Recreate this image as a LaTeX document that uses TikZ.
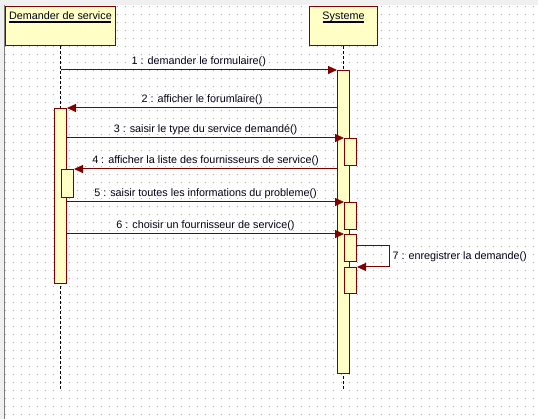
\documentclass[tikz,border=0pt]{standalone}
\usepackage{fontspec}
\setmainfont{Liberation Sans}
\usetikzlibrary{arrows.meta}
\definecolor{umlred}{RGB}{128,0,0}
\definecolor{umlfill}{RGB}{255,255,198}
\definecolor{griddot}{RGB}{170,170,170}
\definecolor{panel}{RGB}{240,240,240}
\definecolor{umltext}{RGB}{0,0,24}
\begin{document}
\begin{tikzpicture}[x=1pt,y=-1pt]
\tikzstyle{every node}+=[inner sep=0pt, text=umltext, font=\fontsize{10.8}{13}\selectfont]
\tikzstyle{actor}=[draw=umlred, fill=umlfill, line width=1pt, anchor=north west, minimum height=39pt]
\tikzstyle{bar}=[draw=umlred, fill=umlfill, line width=1pt, anchor=north west, minimum width=12pt]
\tikzstyle{lifeline}=[black, line width=1pt, dash pattern=on 3pt off 2pt]
\tikzstyle{msg}=[umlred, line width=1pt, -{Triangle[length=9pt,width=8pt]}]
\tikzstyle{msglabel}=[midway, anchor=base, yshift=5pt]
\tikzstyle{uline}=[umltext, line width=1.2pt]
\useasboundingbox (0,0) rectangle (538,419);
\fill[white] (0,0) rectangle (538,419);
% grille de fond
\foreach \i in {0,...,66}
  \foreach \j in {0,...,51}
    \fill[griddot] (5+8*\i,6+8*\j) rectangle ++(1,1);
\fill[panel] (0,0) rectangle (538,5);
\fill[panel] (0,0) rectangle (4,419);
\draw[gray, line width=1pt] (4.5,5) -- (4.5,419);
% objets
\node[actor, minimum width=110pt] (dem) at (5,6) {};
\node[actor, minimum width=68pt] (sys) at (309,6) {};
\node[anchor=base] (demname) at ([yshift=-13.5pt]dem.north) {Demander de service};
\node[anchor=base] (sysname) at ([yshift=-13.5pt]sys.north) {Systeme};
\draw[uline] (9,22) -- (111,22);
\draw[uline] (323,22) -- (364,22);
\coordinate (demend) at (dem.south |- 0,390);
\coordinate (sysend) at (sys.south |- 0,390);
\draw[lifeline] (dem.south) -- (demend);
\draw[lifeline] (sys.south) -- (sysend);
% activations
\node[bar, minimum height=175pt] (b1) at (54,108) {};
\node[bar, minimum height=303pt] (b2) at (337,70) {};
\node[bar, minimum height=28pt] (a1) at (61,169) {};
\node[bar, minimum height=27pt] (s1) at (344,138) {};
\node[bar, minimum height=27pt] (s2) at (344,202) {};
\node[bar, minimum height=27pt] (s3) at (344,234) {};
\node[bar, minimum height=26pt] (s4) at (344,267) {};
% messages
\draw[msg] (dem.south |- b2.north) -- node[msglabel] {1 : demander le formulaire()} (b2.north west);
\draw[msg] (b2.west |- b1.north) -- node[msglabel] {2 : afficher le forumlaire()} (b1.north east);
\draw[msg] (b1.east |- s1.north) -- node[msglabel] {3 : saisir le type du service demandé()} (s1.north west);
\draw[msg] (b2.west |- a1.north) -- node[msglabel] {4 : afficher la liste des fournisseurs de service()} (a1.north east);
\draw[msg] (b1.east |- s2.north) -- node[msglabel] {5 : saisir toutes les informations du probleme()} (s2.north west);
\draw[msg] (b1.east |- s3.north) -- node[msglabel] {6 : choisir un fournisseur de service()} (s3.north west);
\draw[msg] ([yshift=-12pt]s3.north east) -- ++(32,0) |- node[pos=0.25, anchor=west, xshift=3pt] {7 : enregistrer la demande()} (s4.north east);
\end{tikzpicture}
\end{document}
